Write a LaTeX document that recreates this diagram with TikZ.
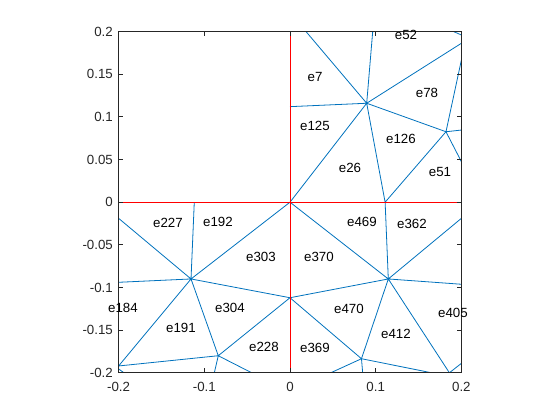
\documentclass[tikz,border=0pt]{standalone}
\usepackage{fontspec}
\setmainfont{Liberation Sans}
\definecolor{mblue}{RGB}{0,114,189}
\definecolor{axcol}{RGB}{38,38,38}
\tikzset{
  mesh/.style={draw=mblue, line width=0.8pt},
  redline/.style={draw=red, line width=0.9pt},
  axbox/.style={draw=axcol, line width=0.8pt},
  lbl/.style={inner sep=0pt, anchor=center, font=\fontsize{13.3pt}{16pt}\selectfont, text=black},
  ticklbl/.style={inner sep=0pt, font=\fontsize{13.3pt}{16pt}\selectfont, text=axcol}
}
\begin{document}
\begin{tikzpicture}
\useasboundingbox (0,0) rectangle (560pt,420pt);
\begin{scope}[shift={(290pt,217.8pt)}, x=857pt, y=853pt]
% upper right
\coordinate (O) at (0,0);
\coordinate (A1) at (0,0.112);
\coordinate (H) at (0.0895,0.116);
\coordinate (P) at (0.182,0.0826);
\coordinate (B) at (0.111,0);
\coordinate (T1) at (0.0187,0.2);
\coordinate (T2) at (0.0965,0.2);
\coordinate (T3) at (0.191,0.2);
\coordinate (E1) at (0.2,0.196);
\coordinate (E2) at (0.2,0.1863);
\coordinate (E3) at (0.2,0.1667);
\coordinate (E4) at (0.2,0.0846);
\coordinate (E5) at (0.2,0.0475);
% lower right
\coordinate (Q1) at (0.1147,-0.090);
\coordinate (A2) at (0,-0.112);
\coordinate (Q2) at (0.0834,-0.1835);
\coordinate (F1) at (0.2,-0.0189);
\coordinate (F2) at (0.2,-0.0962);
\coordinate (F3) at (0.2,-0.1889);
\coordinate (G1) at (0.186,-0.2);
\coordinate (G2) at (0.1653,-0.2);
\coordinate (G3) at (0.0848,-0.2);
\coordinate (G4) at (0.0475,-0.2);
% lower left
\coordinate (L1) at (-0.1155,-0.090);
\coordinate (L2) at (-0.0837,-0.180);
\coordinate (C) at (-0.1117,0);
\coordinate (W1) at (-0.2,-0.0189);
\coordinate (W2) at (-0.2,-0.0939);
\coordinate (W3) at (-0.2,-0.192);
\coordinate (W4) at (-0.2,-0.1955);
\coordinate (K1) at (-0.1937,-0.2);
\coordinate (K2) at (-0.0883,-0.2);
\coordinate (K3) at (-0.0447,-0.2);
% corners
\coordinate (BL) at (-0.2,-0.2);
\coordinate (TR) at (0.2,0.2);

\begin{scope}
\clip (BL) rectangle (TR);
\draw[mesh] (A1)--(H) (O)--(H) (T1)--(H) (T2)--(H) (H)--(E2) (H)--(P) (H)--(B)
  (P)--(B) (P)--(E3) (P)--(E4) (P)--(E5) (T3)--(E1);
\draw[mesh] (O)--(Q1) (B)--(Q1) (Q1)--(F1) (Q1)--(F2) (Q1)--(A2) (Q1)--(Q2) (Q1)--(G1)
  (G1)--(F3) (Q2)--(A2) (Q2)--(G4) (Q2)--(G3) (Q2)--(G2);
\draw[mesh] (L1)--(C) (L1)--(O) (L1)--(W1) (L1)--(W2) (L1)--(A2) (L1)--(L2) (L1)--(W3)
  (L2)--(A2) (L2)--(W3) (L2)--(K2) (L2)--(K3) (W4)--(K1);
\end{scope}

% red axes lines
\draw[redline] (-0.2,0) -- (0.2,0);
\draw[redline] (0,-0.2) -- (0,0.2);

% axes box and ticks
\draw[axbox] (BL) rectangle (TR);
\foreach \v in {-0.1,0,0.1} {
  \draw[axbox] (\v,-0.2) -- ++(0,0.0053);
  \draw[axbox] (\v,0.2) -- ++(0,-0.0053);
}
\foreach \v in {-0.15,-0.1,-0.05,0,0.05,0.1,0.15} {
  \draw[axbox] (-0.2,\v) -- ++(0.0053,0);
  \draw[axbox] (0.2,\v) -- ++(-0.0053,0);
}
% tick labels
\foreach \v/\t in {0.2/0.2,0.15/0.15,0.1/0.1,0.05/0.05,0/0,-0.05/-0.05,-0.1/-0.1,-0.15/-0.15,-0.2/-0.2} {
  \node[ticklbl, anchor=east] (yl\t) at (-0.2065,\v) {\t};
}
\foreach \v/\t in {-0.2/-0.2,-0.1/-0.1,0/0,0.1/0.1,0.2/0.2} {
  \node[ticklbl, anchor=center] (xl\t) at (\v,-0.2163) {\t};
}
\end{scope}

% element labels (pixel positions)
\node[lbl] (n52) at (406pt,385pt) {e52};
\node[lbl] (n7) at (315pt,343.3pt) {e7};
\node[lbl] (n78) at (427pt,327.3pt) {e78};
\node[lbl] (n125) at (315pt,294pt) {e125};
\node[lbl] (n126) at (401pt,280.7pt) {e126};
\node[lbl] (n26) at (350pt,251.7pt) {e26};
\node[lbl] (n51) at (440pt,248pt) {e51};
\node[lbl] (n227) at (168pt,196.7pt) {e227};
\node[lbl] (n192) at (218pt,197.7pt) {e192};
\node[lbl] (n469) at (362pt,197.7pt) {e469};
\node[lbl] (n362) at (412pt,196pt) {e362};
\node[lbl] (n303) at (261pt,162.7pt) {e303};
\node[lbl] (n370) at (319pt,162.7pt) {e370};
\node[lbl] (n184) at (123pt,112.3pt) {e184};
\node[lbl] (n304) at (230pt,111.7pt) {e304};
\node[lbl] (n470) at (349pt,110.7pt) {e470};
\node[lbl] (n405) at (453pt,107.3pt) {e405};
\node[lbl] (n191) at (181pt,91.7pt) {e191};
\node[lbl] (n412) at (396pt,85.7pt) {e412};
\node[lbl] (n228) at (264pt,73.3pt) {e228};
\node[lbl] (n369) at (315pt,71.7pt) {e369};
\end{tikzpicture}
\end{document}
